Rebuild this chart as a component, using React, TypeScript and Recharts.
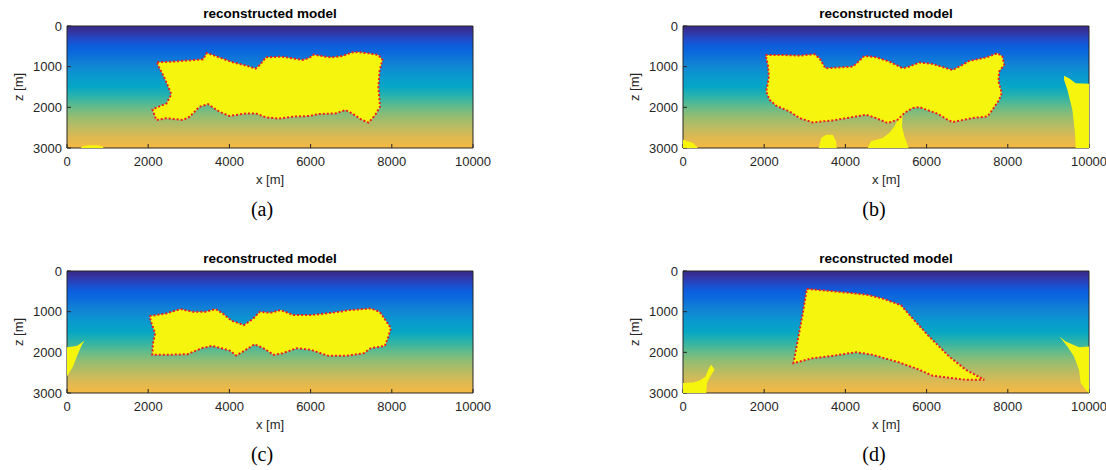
import React from "react";
import {
  ScatterChart,
  Scatter,
  XAxis,
  YAxis,
  ReferenceArea,
} from "recharts";

type Pt = { x: number; z: number };
const P = (pairs: number[][]): Pt[] => pairs.map(([x, z]) => ({ x, z }));

const xTicks = [0, 2000, 4000, 6000, 8000, 10000];
const zTicks = [0, 1000, 2000, 3000];
const panelLabels = ["(a)", "(b)", "(c)", "(d)"];
const title = "reconstructed model";

// (a) salt body outline, x [m], z [m]
const bodyA = P([
  [2220, 890], [2610, 876], [2940, 851], [3350, 819], [3445, 665], [3590, 713],
  [4080, 892], [4410, 973], [4640, 1046], [4735, 973], [4900, 770], [5300, 754],
  [5550, 795], [5800, 835], [5960, 786], [6080, 705], [6370, 754], [6530, 770],
  [6780, 738], [7020, 649], [7180, 640], [7430, 673], [7670, 713], [7770, 835],
  [7700, 1095], [7670, 1500], [7690, 1743], [7710, 1986], [7590, 2189],
  [7430, 2376], [7265, 2311], [7020, 2149], [6860, 2068], [6610, 2149],
  [6200, 2165], [5960, 2214], [5550, 2230], [5220, 2278], [4900, 2246],
  [4650, 2149], [4410, 2149], [4000, 2214], [3755, 2108], [3470, 1922],
  [3265, 1986], [3020, 2230], [2860, 2311], [2450, 2270], [2200, 2311],
  [2140, 2149], [2105, 2051], [2290, 1970], [2450, 1905], [2570, 1678],
  [2410, 1297], [2245, 973], [2220, 890],
]);
const blobsA = [
  P([[330, 3000], [400, 2950], [550, 2930], [750, 2930], [880, 2960], [900, 3000]]),
];

// (b)
const bodyB = P([
  [2033, 711], [2377, 711], [2869, 727], [3238, 695], [3361, 793], [3508, 1038],
  [3771, 1022], [4180, 997], [4279, 915], [4467, 736], [4754, 768], [5082, 875],
  [5410, 1038], [5574, 997], [5820, 899], [6148, 932], [6434, 1022], [6639, 1079],
  [6885, 956], [7049, 858], [7459, 776], [7746, 670], [7869, 752], [7910, 956],
  [7787, 1120], [7770, 1365], [7852, 1651], [7787, 1815], [7623, 2060],
  [7500, 2223], [7131, 2264], [6639, 2362], [6516, 2305], [6270, 2158],
  [5820, 1995], [5656, 2019], [5451, 2142], [5287, 2305], [5041, 2387],
  [4754, 2264], [4508, 2182], [4180, 2240], [3689, 2321], [3197, 2370],
  [2869, 2264], [2623, 2101], [2295, 1962], [2131, 1815], [2049, 1610],
  [2115, 1242], [2090, 956], [2033, 711],
]);
const blobsB = [
  P([[0, 2795], [246, 2877], [369, 3000], [0, 3000]]),
  P([[3344, 3000], [3402, 2755], [3525, 2673], [3689, 2673], [3771, 2836], [3787, 3000]]),
  P([
    [4549, 3000], [4631, 2836], [4918, 2755], [5082, 2632], [5205, 2469],
    [5287, 2305], [5410, 2182], [5394, 2469], [5451, 2714], [5557, 3000],
  ]),
  P([
    [9385, 1226], [9508, 1283], [9672, 1406], [10000, 1422], [10000, 3000],
    [9672, 3000], [9656, 2632], [9590, 2060], [9467, 1570], [9385, 1324],
  ]),
];

// (c)
const bodyC = P([
  [2031, 1109], [2448, 1043], [2795, 937], [3099, 1003], [3403, 1003], [3663, 937],
  [3837, 1043], [4054, 1223], [4358, 1329], [4575, 1182], [4748, 1003], [5009, 1027],
  [5269, 962], [5573, 1084], [6007, 1084], [6528, 1027], [6962, 962], [7483, 921],
  [7700, 1003], [7873, 1247], [7977, 1410], [7916, 1614], [7830, 1842],
  [7483, 1899], [7310, 2022], [6875, 2087], [6441, 2087], [6007, 1940],
  [5660, 1899], [5312, 2022], [5095, 2062], [4835, 1899], [4618, 1802],
  [4401, 1940], [4166, 2079], [4010, 1956], [3576, 1842], [3316, 1899],
  [2969, 2046], [2448, 2062], [2101, 2062], [2118, 1777], [2170, 1533],
  [2083, 1288], [2031, 1109],
]);
const blobsC = [
  P([
    [0, 1875], [234, 1842], [347, 1777], [434, 1712], [365, 1818],
    [260, 2062], [148, 2348], [0, 2592],
  ]),
];

// (d)
const bodyD = P([
  [3049, 440], [3689, 497], [4262, 554], [4590, 595], [4918, 677], [5369, 840],
  [5656, 1166], [6066, 1614], [6557, 2103], [6967, 2429], [7418, 2674],
  [6967, 2674], [6148, 2576], [5820, 2429], [5328, 2250], [4672, 2062],
  [4262, 1997], [3730, 2079], [3197, 2144], [2721, 2266], [2828, 1696],
  [2951, 1043], [3049, 440],
]);
const blobsD = [
  P([
    [0, 2755], [246, 2739], [410, 2690], [557, 2592], [639, 2388], [697, 2307],
    [779, 2429], [672, 2592], [590, 2755], [574, 3000], [0, 3000],
  ]),
  P([
    [9279, 1614], [9426, 1736], [9754, 1875], [10000, 1858], [10000, 3000],
    [9918, 2918], [9795, 2755], [9754, 2429], [9631, 2103], [9467, 1858],
  ]),
];

const panels = [
  { body: bodyA, blobs: blobsA, left: 0, top: 0 },
  { body: bodyB, blobs: blobsB, left: 616, top: 0 },
  { body: bodyC, blobs: blobsC, left: 0, top: 245 },
  { body: bodyD, blobs: blobsD, left: 616, top: 245 },
];

const YELLOW = "#f6f50e";
const RED = "#ee1c25";
const INK = "#262626";
const FONT = "'Liberation Sans', Arial, sans-serif";

const parulaStops: [number, string][] = [
  [0, "#352a87"],
  [0.04, "#36329c"],
  [0.1, "#2447c4"],
  [0.16, "#0d5ddd"],
  [0.23, "#0b6cdc"],
  [0.31, "#1282d4"],
  [0.41, "#0a98cf"],
  [0.5, "#05a7c4"],
  [0.58, "#2db3a9"],
  [0.66, "#62bb8b"],
  [0.74, "#93bd72"],
  [0.83, "#bcbb62"],
  [0.92, "#e0b950"],
  [1, "#f6b943"],
];

const W = 500;
const H = 195;
const tickStyle = { fill: INK, fontSize: 13, fontFamily: FONT };

function Panel({ body, blobs, id }: { body: Pt[]; blobs: Pt[][]; id: string }) {
  return (
    <ScatterChart
      width={W}
      height={H}
      margin={{ top: 25, right: 26, bottom: 0, left: 0 }}
    >
      <defs>
        <linearGradient id={`parula-${id}`} x1="0" y1="0" x2="0" y2="1">
          {parulaStops.map(([o, c]) => (
            <stop key={o} offset={o} stopColor={c} />
          ))}
        </linearGradient>
      </defs>
      <ReferenceArea
        x1={0}
        x2={10000}
        y1={0}
        y2={3000}
        fill={`url(#parula-${id})`}
        fillOpacity={1}
        stroke="none"
      />
      {blobs.map((b, i) => (
        <Scatter
          key={i}
          data={b}
          dataKey="z"
          isAnimationActive={false}
          shape={() => <g />}
          line={{ fill: YELLOW, stroke: "none" }}
        />
      ))}
      <Scatter
        data={body}
        dataKey="z"
        isAnimationActive={false}
        shape={() => <g />}
        line={{
          fill: YELLOW,
          stroke: RED,
          strokeWidth: 2,
          strokeDasharray: "2 2",
        }}
      />
      <XAxis
        type="number"
        dataKey="x"
        domain={[0, 10000]}
        ticks={xTicks}
        height={47}
        allowDataOverflow
        stroke={INK}
        tick={tickStyle}
        tickSize={-4}
        tickMargin={13}
        label={{
          value: "x [m]",
          position: "insideBottom",
          offset: 11,
          style: { fill: INK, fontSize: 13, fontFamily: FONT },
        }}
      />
      <XAxis
        xAxisId="top"
        orientation="top"
        type="number"
        domain={[0, 10000]}
        ticks={xTicks}
        height={1}
        stroke={INK}
        tick={false}
        tickSize={-4}
      />
      <YAxis
        type="number"
        dataKey="z"
        reversed
        domain={[0, 3000]}
        ticks={zTicks}
        width={67}
        allowDataOverflow
        stroke={INK}
        tick={tickStyle}
        tickSize={-4}
        tickMargin={9}
      />
      <YAxis
        yAxisId="right"
        orientation="right"
        type="number"
        reversed
        domain={[0, 3000]}
        ticks={zTicks}
        width={1}
        stroke={INK}
        tick={false}
        tickSize={-4}
      />
      <text
        x={270}
        y={18}
        textAnchor="middle"
        fontWeight="bold"
        fontSize={13.5}
        fontFamily={FONT}
        fill="#000"
      >
        {title}
      </text>
      <text
        transform="rotate(-90)"
        x={-87}
        y={23}
        textAnchor="middle"
        fontSize={13}
        fontFamily={FONT}
        fill={INK}
      >
        z [m]
      </text>
    </ScatterChart>
  );
}

export default function App() {
  return (
    <div
      style={{
        position: "absolute",
        left: 0,
        top: 0,
        width: 1106,
        height: 470,
        background: "#fff",
        overflow: "hidden",
      }}
    >
      {panels.map((p, i) => (
        <div key={i} style={{ position: "absolute", left: p.left, top: p.top }}>
          <Panel body={p.body} blobs={p.blobs} id={String(i)} />
          <div
            style={{
              position: "absolute",
              left: 222 - (i % 2) * 4,
              top: 197,
              width: 80,
              textAlign: "center",
              fontFamily: "'Liberation Serif', 'Times New Roman', serif",
              fontSize: 20,
              lineHeight: "24px",
              color: "#000",
            }}
          >
            {panelLabels[i]}
          </div>
        </div>
      ))}
    </div>
  );
}
